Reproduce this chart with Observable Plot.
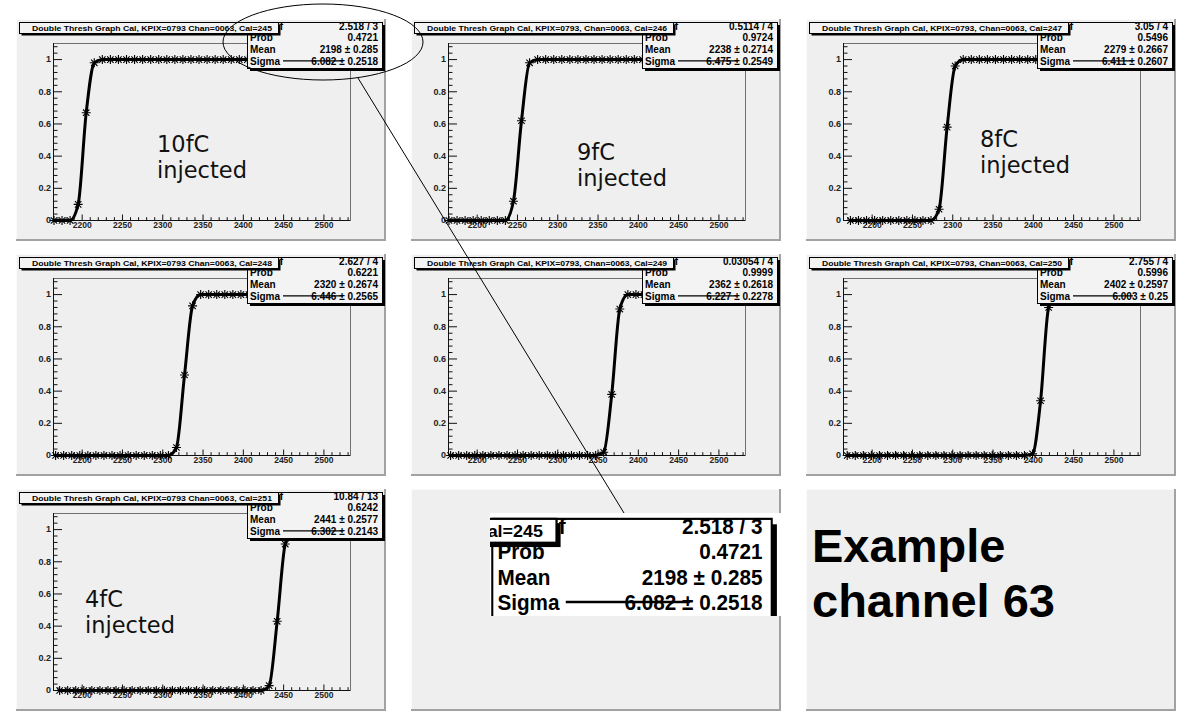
<!DOCTYPE html>
<html><head><meta charset="utf-8">
<script src="https://cdn.jsdelivr.net/npm/d3@7"></script>
<script src="https://cdn.jsdelivr.net/npm/@observablehq/plot@0.6"></script>
<style>
body{margin:0;background:#fff;}
#page{position:relative;width:1180px;height:717px;overflow:hidden;background:#fff;}
.pad{position:absolute;width:370px;height:222px;background:#efefef;box-shadow:inset -2px -2px 0 #a2a2a2, inset 1px 1px 0 #fbfbfb;}
.pad svg{position:absolute;left:0;top:0;}
</style></head>
<body><div id="page"></div>
<script>
// ---------------- data ----------------
const titles = [
  "Double Thresh Graph Cal, KPIX=0793 Chan=0063, Cal=245",
  "Double Thresh Graph Cal, KPIX=0793, Chan=0063, Cal=246",
  "Double Thresh Graph Cal, KPIX=0793, Chan=0063, Cal=247",
  "Double Thresh Graph Cal, KPIX=0793 Chan=0063, Cal=248",
  "Double Thresh Graph Cal, KPIX=0793, Chan=0063, Cal=249",
  "Double Thresh Graph Cal, KPIX=0793, Chan=0063, Cal=250",
  "Double Thresh Graph Cal, KPIX=0793 Chan=0063, Cal=251"
];
const chi2 = ["2.518 / 3", "0.5114 / 4", "3.05 / 4", "2.627 / 4", "0.03054 / 4", "2.755 / 4", "10.84 / 13"];
const prob = ["0.4721", "0.9724", "0.5496", "0.6221", "0.9999", "0.5996", "0.6242"];
const mean = ["2198 \u00b1 0.285", "2238 \u00b1 0.2714", "2279 \u00b1 0.2667", "2320 \u00b1 0.2674", "2362 \u00b1 0.2618", "2402 \u00b1 0.2597", "2441 \u00b1 0.2577"];
const sigma = ["6.082 \u00b1 0.2518", "6.475 \u00b1 0.2549", "6.411 \u00b1 0.2607", "6.446 \u00b1 0.2565", "6.227 \u00b1 0.2278", "6.003 \u00b1 0.25", "6.302 \u00b1 0.2143"];
const injectedLabels = ["10fC", "9fC", "8fC", null, null, null, "4fC"];

const xTickLabels = [2200, 2250, 2300, 2350, 2400, 2450, 2500];
const yTickLabels = [0, 0.2, 0.4, 0.6, 0.8, 1];

// DAC scan points (x) per panel
const scanA = [2165,2175,2185,2195,2205,2215,2225,2235,2245,2255,2265,2275,2285,2295,2305,2315,2325,2335,2345,2355,2365,2375,2385,2395,2405,2415,2425,2435,2445,2455,2465,2475,2485,2495,2505,2515,2525];
const scanB = [2173,2183,2193,2203,2213,2223,2233,2243,2253,2263,2273,2283,2293,2303,2313,2323,2333,2343,2353,2363,2373,2383,2393,2403,2413,2423,2433,2443,2453,2463,2473,2483,2493,2503,2513,2523];
const scanC = [2167,2177,2187,2197,2207,2217,2227,2237,2247,2257,2267,2277,2287,2297,2307,2317,2327,2337,2347,2357,2367,2377,2387,2397,2407,2417,2427,2437,2447,2457,2467,2477,2487,2497,2507,2517,2527];
const scanD = [2169,2179,2189,2199,2209,2219,2229,2239,2249,2259,2269,2279,2289,2299,2309,2319,2329,2339,2349,2359,2369,2379,2389,2399,2409,2419,2429,2439,2449,2459,2469,2479,2489,2499,2509,2519,2529];
const scanE = [2172,2182,2192,2202,2212,2222,2232,2242,2252,2262,2272,2282,2292,2302,2312,2322,2332,2342,2352,2362,2372,2382,2392,2402,2412,2422,2432,2442,2452,2462,2472,2482,2492,2502,2512,2522];

// hit efficiency (y) per panel
const y10fC  = [0,0,0,0.1,0.67,0.98,1,1,1,1,1,1,1,1,1,1,1,1,1,1,1,1,1,1,1,1,1,1,1,1,1,1,1,1,1,1,1];
const y9fC   = [0,0,0,0,0,0,0,0,0.12,0.62,0.98,1,1,1,1,1,1,1,1,1,1,1,1,1,1,1,1,1,1,1,1,1,1,1,1,1,1];
const y8fC   = [0,0,0,0,0,0,0,0,0,0,0,0.07,0.58,0.96,1,1,1,1,1,1,1,1,1,1,1,1,1,1,1,1,1,1,1,1,1,1];
const yCal248 = [0,0,0,0,0,0,0,0,0,0,0,0,0,0,0,0.05,0.5,0.93,1,1,1,1,1,1,1,1,1,1,1,1,1,1,1,1,1,1,1];
const yCal249 = [0,0,0,0,0,0,0,0,0,0,0,0,0,0,0,0,0,0,0,0.02,0.38,0.91,1,1,1,1,1,1,1,1,1,1,1,1,1,1,1];
const yCal250 = [0,0,0,0,0,0,0,0,0,0,0,0,0,0,0,0,0,0,0,0,0,0,0,0.01,0.34,0.92,1,1,1,1,1,1,1,1,1,1,1];
const y4fC   = [0,0,0,0,0,0,0,0,0,0,0,0,0,0,0,0,0,0,0,0,0,0,0,0,0,0,0.03,0.43,0.91,1,1,1,1,1,1,1];

const panelX = [scanA, scanA, scanB, scanC, scanC, scanD, scanE];
const panelY = [y10fC, y9fC, y8fC, yCal248, yCal249, yCal250, y4fC];

// ---------------- layout ----------------
const FONT = "'Liberation Sans', Arial, Helvetica, sans-serif";
const W = 370, H = 222, ML = 37, MR = 36, MT = 24, MB = 21;
const FW = W - ML - MR, FH = H - MT - MB;
const xDomain = [2164.4, 2533];
const yDomain = [0, 1.1];
const xMinor = d3.range(2170, 2531, 10).filter(d => d % 50 !== 0);
const yMinor = d3.range(1, 28).filter(i => i % 5 !== 0).map(i => +(i * 0.04).toFixed(2));

const page = document.getElementById("page");

function makePlot(xs, ys) {
  const pts = xs.map((x, i) => ({x, y: ys[i]}));
  return Plot.plot({
    width: W, height: H, marginLeft: ML, marginRight: MR, marginTop: MT, marginBottom: MB,
    style: {background: "transparent", overflow: "visible", color: "#111", fontFamily: FONT},
    x: {domain: xDomain},
    y: {domain: yDomain},
    marks: [
      Plot.frame({stroke: "#707070"}),
      Plot.tickY(yMinor, {y: d => d, insetRight: FW - 4.5, stroke: "#111"}),
      Plot.tickY(yTickLabels, {y: d => d, insetRight: FW - 9, stroke: "#111"}),
      Plot.tickX(xMinor, {x: d => d, insetTop: FH - 2.8, stroke: "#111"}),
      Plot.tickX(xTickLabels, {x: d => d, insetTop: FH - 5.5, stroke: "#111"}),
      Plot.ruleX([xDomain[0]], {stroke: "#111"}),
      Plot.ruleY([0], {stroke: "#111"}),
      Plot.axisX({ticks: xTickLabels, tickSize: 0, tickPadding: 1.5, tickFormat: d => String(d), label: null, fontSize: 8.5, fontWeight: "bold", fill: "#222"}),
      Plot.axisY({ticks: yTickLabels, tickSize: 0, tickPadding: 2.5, tickFormat: d => String(d), label: null, fontSize: 9, fontWeight: "bold", fill: "#222"}),
      Plot.line(pts, {x: "x", y: "y", curve: "monotone-x", strokeWidth: 3, stroke: "#000"}),
      Plot.dot(pts, {x: "x", y: "y", symbol: "plus", r: 3, stroke: "#000", strokeWidth: 1.1}),
      Plot.dot(pts, {x: "x", y: "y", symbol: "times", r: 3, stroke: "#000", strokeWidth: 1.1})
    ]
  });
}

function boxes(i, fill) {
  return `
  <g font-family="${FONT}" font-weight="bold" fill="#000">
    <rect x="234" y="6" width="135" height="46" fill="#000"/>
    <rect x="231.5" y="3.5" width="135" height="46" fill="${fill}" stroke="#000"/>
    <text x="234" y="10.5" font-size="10">\u03c7\u00b2 / ndf</text>
    <text x="362" y="10.5" font-size="10" text-anchor="end">${chi2[i]}</text>
    <text x="234" y="22" font-size="10">Prob</text>
    <text x="362" y="22" font-size="10" text-anchor="end">${prob[i]}</text>
    <text x="234" y="34" font-size="10">Mean</text>
    <text x="362" y="34" font-size="10" text-anchor="end">${mean[i]}</text>
    <text x="234" y="45.5" font-size="10">Sigma</text>
    <text x="362" y="45.5" font-size="10" text-anchor="end">${sigma[i]}</text>
    <line x1="267" x2="327" y1="41.8" y2="41.8" stroke="#000" stroke-width="1.2"/>
    <rect x="5.5" y="5.5" width="259" height="11" fill="#000"/>
    <rect x="3.5" y="3.5" width="259" height="11" fill="${fill}" stroke="#000"/>
    <text x="136" y="11.9" font-size="7.5" text-anchor="middle" textLength="240" lengthAdjust="spacingAndGlyphs">${titles[i]}</text>
  </g>`;
}

const NS = "http://www.w3.org/2000/svg";
for (let p = 0; p < 9; p++) {
  const c = p % 3, r = Math.floor(p / 3);
  const pad = document.createElement("div");
  pad.className = "pad";
  pad.style.left = (16 + 395 * c) + "px";
  pad.style.top = (19 + 235 * r) + "px";
  page.appendChild(pad);
  if (p < 7) {
    const svg = makePlot(panelX[p], panelY[p]);
    pad.appendChild(svg);
    const ov = document.createElementNS(NS, "svg");
    ov.setAttribute("width", W); ov.setAttribute("height", H);
    ov.style.overflow = "visible";
    ov.innerHTML = boxes(p, "#f3f3f3");
    pad.appendChild(ov);
  }
}

// zoomed inset of panel 1 statistics box
const inset = document.createElement("div");
inset.style.cssText = "position:absolute;left:490px;top:513px;width:293px;height:103px;overflow:hidden;background:#fff;";
inset.innerHTML = `<svg width="293" height="103"><g transform="scale(2.07,2.17) translate(-230.4,-0.8)">${boxes(0, "#fff")}</g></svg>`;
page.appendChild(inset);

// annotations
const ann = document.createElementNS(NS, "svg");
ann.setAttribute("width", 1180); ann.setAttribute("height", 717);
ann.style.cssText = "position:absolute;left:0;top:0;pointer-events:none;";
const labelPos = [[157, 152], [577, 160], [980, 147], null, null, null, [85, 607]];
let inj = "";
injectedLabels.forEach((t, i) => {
  if (!t) return;
  const [x, y] = labelPos[i];
  inj += `<text font-family="'DejaVu Sans', Verdana, sans-serif" font-size="22.5" fill="#111"><tspan x="${x}" y="${y}">${t}</tspan><tspan x="${x}" y="${y + 26}">injected</tspan></text>`;
});
ann.innerHTML = `
  <ellipse cx="323" cy="42" rx="100" ry="38" fill="none" stroke="#000" stroke-width="1"/>
  <line x1="358" y1="78" x2="624" y2="513" stroke="#000" stroke-width="1"/>
  ${inj}
  <text font-family="'Liberation Sans', Arial, sans-serif" font-weight="bold" font-size="47" fill="#000">
    <tspan x="812" y="562">Example</tspan><tspan x="812" y="617">channel 63</tspan>
  </text>`;
page.appendChild(ann);
</script>
</body></html>
